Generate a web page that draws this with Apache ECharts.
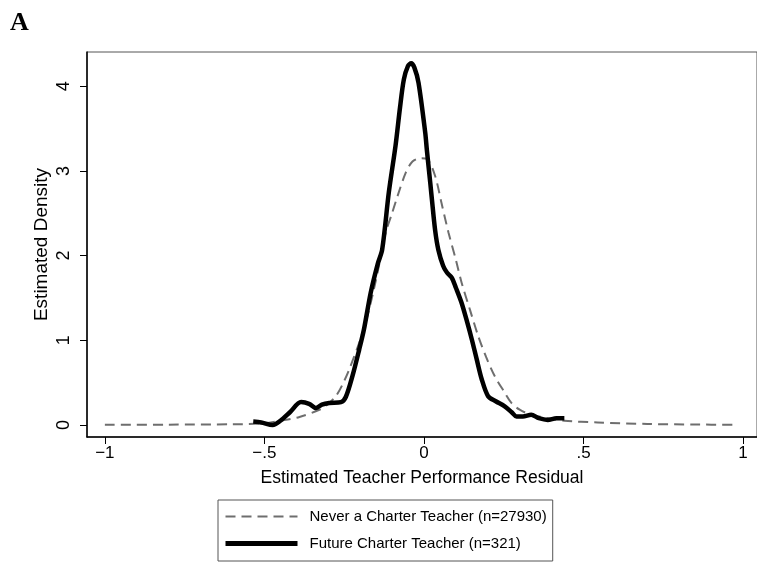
<!DOCTYPE html>
<html>
<head>
<meta charset="utf-8">
<script src="https://cdn.jsdelivr.net/npm/echarts@6/dist/echarts.min.js"></script>
<style>
html,body{margin:0;padding:0;background:#fff;}
#chart{width:757px;height:565px;}
</style>
</head>
<body>
<div id="chart"></div>
<script>
// Never a Charter Teacher (dashed gray): [x, density]
const neverX = [-1.0, -0.8, -0.6, -0.5, -0.45, -0.39, -0.328, -0.3, -0.276, -0.255, -0.235, -0.203, -0.18, -0.16, -0.14, -0.12, -0.1, -0.083, -0.057, -0.036, -0.01, 0.01, 0.035, 0.055, 0.077, 0.1, 0.118, 0.145, 0.17, 0.195, 0.222, 0.25, 0.274, 0.3, 0.336, 0.39, 0.44, 0.544, 0.7, 0.85, 0.967];
const neverY = [0.003, 0.004, 0.008, 0.02, 0.05, 0.095, 0.18, 0.25, 0.34, 0.48, 0.65, 0.97, 1.25, 1.55, 1.9, 2.27, 2.5, 2.70, 2.98, 3.11, 3.15, 3.14, 2.94, 2.62, 2.27, 1.95, 1.68, 1.35, 1.05, 0.80, 0.575, 0.40, 0.26, 0.18, 0.12, 0.08, 0.05, 0.03, 0.012, 0.005, 0.003];
// Future Charter Teacher (solid black)
const futureX = [-0.535, -0.51, -0.474, -0.45, -0.42, -0.385, -0.36, -0.339, -0.32, -0.297, -0.26, -0.245, -0.224, -0.203, -0.188, -0.167, -0.145, -0.131, -0.11, -0.089, -0.075, -0.063, -0.05, -0.04, -0.03, -0.017, 0.004, 0.009, 0.02, 0.025, 0.035, 0.045, 0.06, 0.072, 0.087, 0.1, 0.118, 0.135, 0.15, 0.165, 0.181, 0.201, 0.225, 0.253, 0.275, 0.29, 0.31, 0.336, 0.36, 0.388, 0.415, 0.44];
const futureY = [0.04, 0.03, 0.0, 0.05, 0.15, 0.27, 0.25, 0.20, 0.24, 0.26, 0.27, 0.33, 0.58, 0.89, 1.13, 1.56, 1.9, 2.07, 2.75, 3.3, 3.75, 4.08, 4.24, 4.27, 4.22, 4.04, 3.45, 3.25, 2.85, 2.66, 2.3, 2.07, 1.88, 1.80, 1.74, 1.62, 1.44, 1.22, 1.01, 0.78, 0.54, 0.34, 0.28, 0.22, 0.15, 0.10, 0.10, 0.12, 0.08, 0.06, 0.08, 0.08];
const xTicks = [-1, -0.5, 0, 0.5, 1];
const xTickLabels = ['\u22121', '\u2212.5', '0', '.5', '1'];
const yTicks = [0, 1, 2, 3, 4];
const seriesNames = ['Never a Charter Teacher (n=27930)', 'Future Charter Teacher (n=321)'];

const zip = (xs, ys) => xs.map((x, i) => [x, ys[i]]);
const font = 'Liberation Sans, Arial, sans-serif';
const dash = [10, 6];

const chart = echarts.init(document.getElementById('chart'), null, {renderer: 'canvas'});
chart.setOption({
  animation: false,
  backgroundColor: '#fff',
  graphic: [{
    type: 'text', left: 10, top: 10,
    style: {text: 'A', font: 'bold 26px "Liberation Serif", "Times New Roman", serif', fill: '#000'}
  }],
  grid: {left: 87, top: 52, right: -2, bottom: 128, show: true, borderColor: '#555', borderWidth: 1, backgroundColor: '#fff'},
  xAxis: {
    type: 'value', min: -1.056, max: 1.0437,
    axisLine: {show: true, onZero: false, lineStyle: {color: '#000', width: 1.5}},
    axisTick: {show: true, length: 7, customValues: xTicks, lineStyle: {color: '#000'}},
    axisLabel: {customValues: xTicks, formatter: v => { const i = xTicks.indexOf(v); return i >= 0 ? xTickLabels[i] : ''; }, fontSize: 17, color: '#000', fontFamily: font, margin: 8},
    splitLine: {show: false},
    name: 'Estimated Teacher Performance Residual', nameLocation: 'middle', nameGap: 32,
    nameTextStyle: {fontSize: 17.5, color: '#000', fontFamily: font}
  },
  yAxis: {
    type: 'value', min: -0.142, max: 4.404,
    axisLine: {show: true, onZero: false, lineStyle: {color: '#000', width: 1.5}},
    axisTick: {show: true, length: 7, customValues: yTicks, lineStyle: {color: '#000'}},
    axisLabel: {customValues: yTicks, rotate: 90, fontSize: 18, color: '#000', fontFamily: font, margin: 14},
    splitLine: {show: false},
    name: 'Estimated Density', nameLocation: 'middle', nameGap: 36, nameMoveOverlap: false,
    nameTextStyle: {fontSize: 19, color: '#000', fontFamily: font}
  },
  legend: {
    orient: 'vertical', left: 218, top: 500,
    padding: [9, 6, 10, 5], itemGap: 12, itemWidth: 72, itemHeight: 16,
    borderColor: '#555', borderWidth: 1,
    itemStyle: {opacity: 0},
    textStyle: {fontSize: 15, color: '#000', fontFamily: font, padding: [0, 0, 0, 7]},
    data: [
      {name: seriesNames[0], lineStyle: {color: '#6e6e6e', width: 2, type: dash}, itemStyle: {opacity: 0}},
      {name: seriesNames[1], lineStyle: {color: '#000', width: 5}, itemStyle: {opacity: 0}}
    ]
  },
  series: [
    {name: seriesNames[0], type: 'line', data: zip(neverX, neverY), showSymbol: false, symbol: 'none', smooth: 0.3,
     lineStyle: {color: '#6e6e6e', width: 2, type: dash}, itemStyle: {color: '#6e6e6e'}},
    {name: seriesNames[1], type: 'line', data: zip(futureX, futureY), showSymbol: false, symbol: 'none', smooth: 0.3,
     lineStyle: {color: '#000', width: 4.5}, itemStyle: {color: '#000'}}
  ]
});
</script>
</body>
</html>
